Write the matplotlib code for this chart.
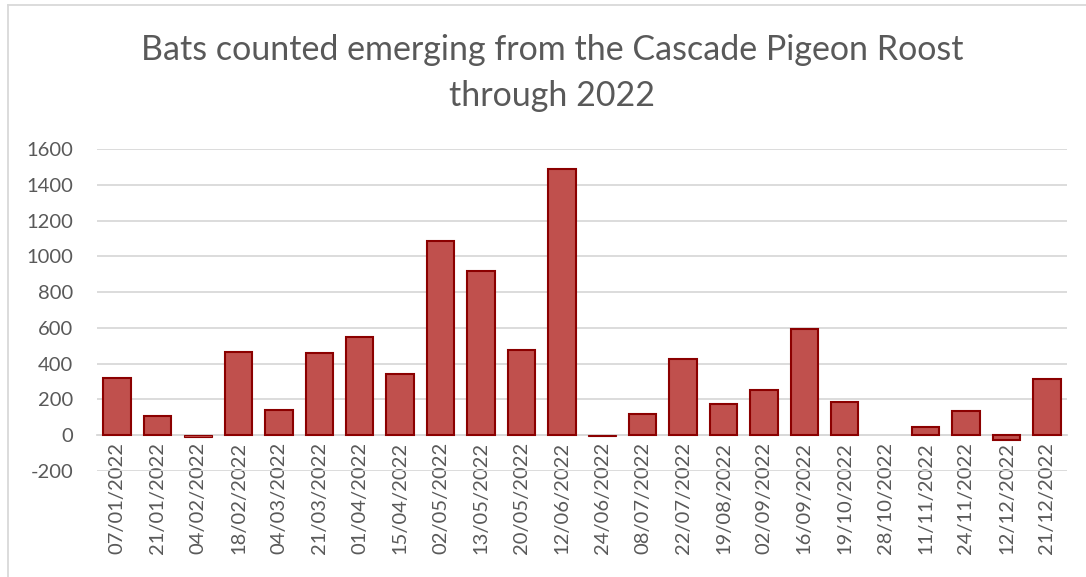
import matplotlib.pyplot as plt
from matplotlib.lines import Line2D

dates = [
    "07/01/2022", "21/01/2022", "04/02/2022", "18/02/2022", "04/03/2022",
    "21/03/2022", "01/04/2022", "15/04/2022", "02/05/2022", "13/05/2022",
    "20/05/2022", "12/06/2022", "24/06/2022", "08/07/2022", "22/07/2022",
    "19/08/2022", "02/09/2022", "16/09/2022", "19/10/2022", "28/10/2022",
    "11/11/2022", "24/11/2022", "12/12/2022", "21/12/2022",
]
bat_counts = [
    322, 105, -10, 465, 140, 460, 550, 341, 1087, 917,
    477, 1490, -5, 117, 428, 175, 255, 593, 185, 0,
    45, 134, -25, 314,
]
y_ticks = [-200, 0, 200, 400, 600, 800, 1000, 1200, 1400, 1600]

TEXT_GREY = "#595959"
GRID_GREY = "#d9d9d9"

plt.rcParams["font.family"] = ["Lato", "DejaVu Sans"]

fig = plt.figure(figsize=(10.86, 5.77), dpi=100)
ax = fig.add_axes([97 / 1086, (577 - 471) / 577, (1067 - 97) / 1086, (471 - 149) / 577])

# spine position first: moving it resets the tick labels
for side in ["left", "right", "top"]:
    ax.spines[side].set_visible(False)
ax.spines["bottom"].set_position(("data", 0))
ax.spines["bottom"].set_color(GRID_GREY)
ax.spines["bottom"].set_linewidth(1.3)

x = list(range(len(dates)))
edge_widths = [0 if v == 0 else (0.8 if abs(v) < 15 else 1.5) for v in bat_counts]
ax.bar(x, bat_counts, width=0.68, color="#C0504D", edgecolor="#8B0000",
       linewidth=edge_widths, zorder=3)

ax.set_ylim(-200, 1600)
ax.set_xlim(-0.5, len(dates) - 0.5)
ax.set_yticks(y_ticks)
ax.set_yticklabels([str(v) for v in y_ticks], fontsize=14.5, color=TEXT_GREY)
ax.set_xticks(x)
ax.set_xticklabels(dates, rotation=90, fontsize=14.5, color=TEXT_GREY)
ax.tick_params(axis="both", length=0)
ax.tick_params(axis="y", pad=17)
ax.tick_params(axis="x", pad=5)

ax.grid(axis="y", color=GRID_GREY, linewidth=1.3, zorder=0)

fig.text(552 / 1086, 1 - 73 / 577,
         "Bats counted emerging from the Cascade Pigeon Roost\nthrough 2022",
         ha="center", va="center", fontsize=24.5, color=TEXT_GREY, linespacing=1.5)

# chart area border (left and top edges visible)
fig.add_artist(Line2D([8 / 1086, 8 / 1086], [0, 1 - 5 / 577], transform=fig.transFigure,
                      color=GRID_GREY, linewidth=1.3))
fig.add_artist(Line2D([8 / 1086, 1], [1 - 5 / 577, 1 - 5 / 577], transform=fig.transFigure,
                      color=GRID_GREY, linewidth=1.3))

fig.savefig("out.png", dpi=100)
